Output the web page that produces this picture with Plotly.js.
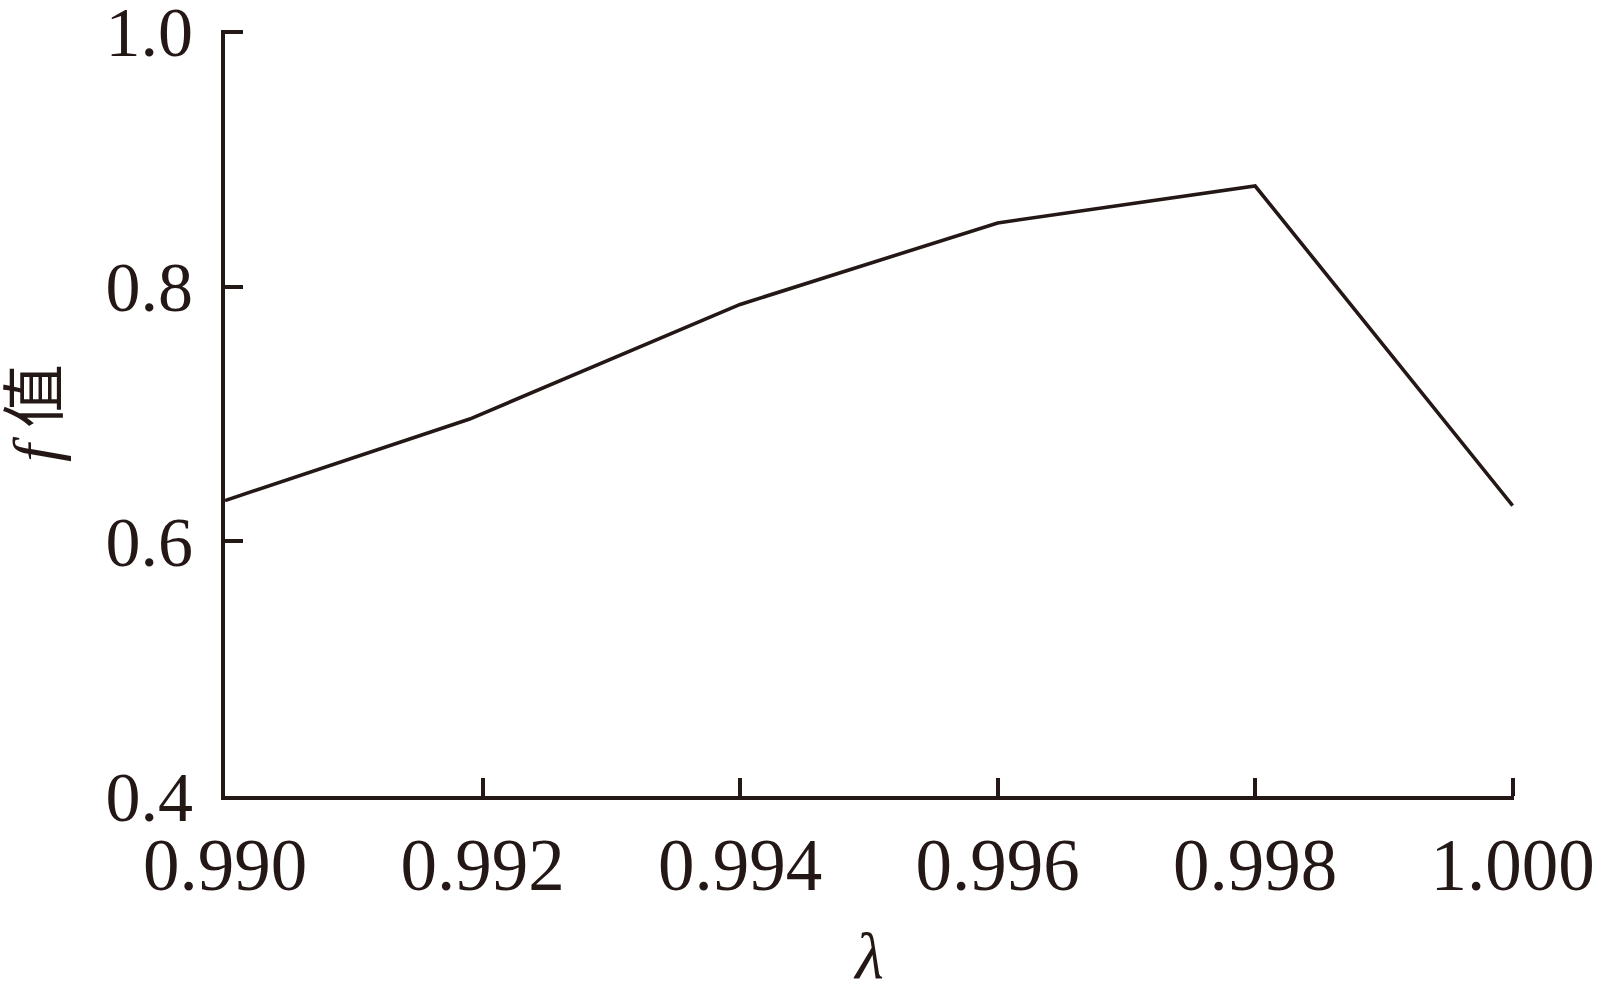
<!DOCTYPE html>
<html>
<head>
<meta charset="utf-8">
<script src="https://cdn.plot.ly/plotly-3.0.1.min.js"></script>
<style>html,body{margin:0;padding:0;background:#fff;}#chart{width:1608px;height:992px;}</style>
</head>
<body>
<div id="chart"></div>
<script>
const lambdaValues = [0.990, 0.9919, 0.994, 0.996, 0.998, 1.000];
const fValues = [0.632, 0.696, 0.786, 0.850, 0.879, 0.628];
const xTickVals = [0.990, 0.992, 0.994, 0.996, 0.998, 1.000];
const xTickText = ['0.990', '0.992', '0.994', '0.996', '0.998', '1.000'];
const yTickVals = [0.4, 0.6, 0.8, 1.0];
const yTickText = ['0.4', '0.6', '0.8', '1.0'];

const ink = '#231815';
const serif = '"Liberation Serif", "Times New Roman", "Noto Sans CJK SC", serif';

const trace = {
  x: lambdaValues,
  y: fValues,
  type: 'scatter',
  mode: 'lines',
  line: {color: ink, width: 3.6},
  hoverinfo: 'skip',
  showlegend: false
};

const layout = {
  width: 1608,
  height: 992,
  paper_bgcolor: '#ffffff',
  plot_bgcolor: '#ffffff',
  margin: {l: 225, r: 94, t: 30, b: 196, pad: 0},
  showlegend: false,
  xaxis: {
    range: [0.990, 1.00001],
    tickvals: xTickVals,
    ticktext: xTickText,
    ticks: 'inside',
    ticklen: 18,
    tickwidth: 4,
    tickcolor: ink,
    showline: true,
    linewidth: 4,
    linecolor: ink,
    showgrid: false,
    zeroline: false,
    ticklabelstandoff: 2,
    ticklabeloverflow: 'allow',
    tickfont: {family: serif, size: 73, color: ink},
    title: {text: '<i>λ</i>', font: {family: serif, size: 66, color: ink}, standoff: 36}
  },
  yaxis: {
    range: [0.4, 1.0015],
    tickvals: yTickVals,
    ticktext: yTickText,
    ticks: 'inside',
    ticklen: 18,
    tickwidth: 4,
    tickcolor: ink,
    showline: true,
    linewidth: 4,
    linecolor: ink,
    showgrid: false,
    zeroline: false,
    ticklabelstandoff: 14,
    ticklabeloverflow: 'allow',
    tickfont: {family: serif, size: 70, color: ink},
    title: {text: '<i>f</i> 值', font: {family: serif, size: 64, color: ink}, standoff: 48}
  }
};

Plotly.newPlot('chart', [trace], layout, {staticPlot: true, displayModeBar: false});
</script>
</body>
</html>
